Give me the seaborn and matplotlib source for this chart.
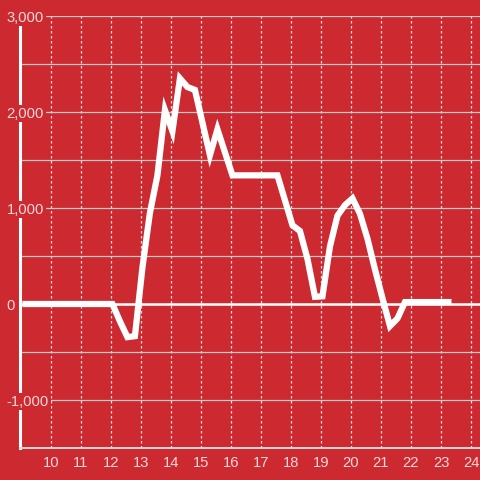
import matplotlib
matplotlib.use("Agg")
import matplotlib.pyplot as plt
import seaborn as sns
from matplotlib.ticker import FuncFormatter

# ── data (hour of day, value) ────────────────────────────────
hours = [9.05, 12.05, 12.3, 12.55, 12.8, 13.05, 13.3, 13.55, 13.8, 14.05,
         14.3, 14.55, 14.8, 15.05, 15.3, 15.55, 15.8, 16.05, 17.55, 17.8,
         18.05, 18.3, 18.55, 18.8, 19.05, 19.3, 19.55, 19.8, 20.05, 20.3,
         20.55, 20.8, 21.05, 21.3, 21.55, 21.8, 23.35]
values = [0, 0, -180, -345, -335, 380, 950, 1340, 2020, 1800,
          2350, 2260, 2230, 1890, 1550, 1820, 1580, 1340, 1340, 1080,
          820, 760, 470, 75, 80, 600, 920, 1030, 1100, 940,
          680, 360, 60, -230, -150, 20, 20]

x_ticks = list(range(10, 25))
y_ticks = [-1000, 0, 1000, 2000, 3000]
y_grid = [-1500, -1000, -500, 0, 500, 1000, 1500, 2000, 2500, 3000]

BG = "#cc2a30"
LABEL = "#f6d8da"

sns.set_style("white")
plt.rcParams["font.family"] = ["Liberation Sans", "DejaVu Sans"]

fig = plt.figure(figsize=(4.8, 4.8), dpi=100, facecolor=BG)
ax = fig.add_axes([20 / 480, 32 / 480, 460 / 480, 432 / 480])
ax.set_facecolor(BG)

# horizontal grid + zero line
for v in y_grid:
    ax.axhline(v, color="#c9c9c9", lw=0.9, zorder=1)
ax.axhline(0, color="white", lw=1.8, zorder=1.5)

sns.lineplot(x=hours, y=values, ax=ax, sort=False, color="white",
             lw=4.5, zorder=2)
for ln in ax.get_lines()[-1:]:
    ln.set_solid_joinstyle("miter")
    ln.set_solid_capstyle("butt")

ax.set_xlim(8.97, 24.3)
ax.set_ylim(-1500, 3000)
ax.set_xticks(x_ticks)
ax.set_yticks(y_ticks)
ax.yaxis.set_major_formatter(FuncFormatter(lambda v, p: f"{int(v):,}"))

ax.set_axisbelow(True)
ax.grid(axis="x", color="#f0dcdc", lw=0.9, ls=(0, (2, 2)))
ax.grid(axis="y", visible=False)
ax.yaxis.set_zorder(3)

ax.tick_params(axis="x", length=0, pad=5.5, labelsize=10.6, labelcolor=LABEL)
ax.tick_params(axis="y", length=0, pad=9.6, labelsize=10.6, labelcolor=LABEL)
for lab in ax.get_yticklabels():
    lab.set_horizontalalignment("left")
    lab.set_bbox(dict(facecolor=BG, edgecolor="none", pad=1.2))

for s in ["top", "right"]:
    ax.spines[s].set_visible(False)
ax.spines["left"].set_color("white")
ax.spines["left"].set_linewidth(2.2)
ax.spines["bottom"].set_color("#d8d8d8")
ax.spines["bottom"].set_linewidth(1.4)

fig.savefig("out.png", dpi=100, facecolor=BG)
